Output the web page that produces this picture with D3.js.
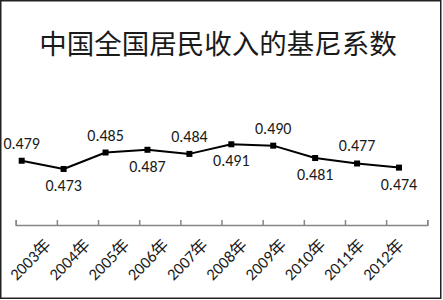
<!DOCTYPE html>
<html>
<head>
<meta charset="utf-8">
<script src="https://cdn.jsdelivr.net/npm/d3@7"></script>
<style>
  html, body { margin: 0; padding: 0; background: #fff; }
  svg { display: block; }
</style>
</head>
<body>
<svg id="chart"></svg>
<script>
const title = '中国全国居民收入的基尼系数';
const years = ['2003年', '2004年', '2005年', '2006年', '2007年', '2008年', '2009年', '2010年', '2011年', '2012年'];
const gini = [0.479, 0.473, 0.485, 0.487, 0.484, 0.491, 0.490, 0.481, 0.477, 0.474];

const width = 443;
const height = 300;
const numFont = 'Carlito, "Liberation Sans", Arial, sans-serif';
const cjkFont = '"Noto Sans CJK SC", "Liberation Sans", sans-serif';
const yearFont = 'Carlito, "Liberation Sans", "Noto Sans CJK SC", sans-serif';

const svg = d3.select('#chart')
  .attr('width', width)
  .attr('height', height);

// frame
svg.append('rect')
  .attr('x', 0.75)
  .attr('y', 0.75)
  .attr('width', 440)
  .attr('height', 297.5)
  .attr('fill', '#fff')
  .attr('stroke', '#222')
  .attr('stroke-width', 1.5);

svg.append('text')
  .attr('x', 218)
  .attr('y', 54)
  .attr('text-anchor', 'middle')
  .attr('font-family', cjkFont)
  .attr('font-size', 27.5)
  .attr('fill', '#1a1a1a')
  .text(title);

const x = d3.scalePoint()
  .domain(years)
  .range([21.7, 399]);

const y = d3.scaleLinear()
  .domain([0.47, 0.495])
  .range([173.1, 138.8]);

// axis ticks sit on the category borders
const xAxisScale = d3.scaleLinear()
  .domain([0, years.length])
  .range([15.7, 427.3]);

const xLabel = d3.scalePoint()
  .domain(years)
  .range([52, 405]);

const axis = svg.append('g')
  .attr('transform', 'translate(0, 225)')
  .call(d3.axisBottom(xAxisScale)
    .ticks(years.length)
    .tickSizeInner(-5)
    .tickSizeOuter(-5)
    .tickFormat(''));

axis.selectAll('path, line')
  .attr('stroke', '#868686')
  .attr('stroke-width', 1.5);

svg.append('g')
  .selectAll('text')
  .data(years)
  .join('text')
  .attr('transform', d => `translate(${xLabel(d)}, 246) rotate(-45)`)
  .attr('text-anchor', 'end')
  .attr('font-family', yearFont)
  .attr('font-size', 16.5)
  .attr('fill', '#1a1a1a')
  .text(d => d);

const line = d3.line()
  .x((d, i) => x(years[i]))
  .y(d => y(d));

svg.append('path')
  .datum(gini)
  .attr('fill', 'none')
  .attr('stroke', '#000')
  .attr('stroke-width', 2)
  .attr('stroke-linejoin', 'round')
  .attr('d', line);

svg.append('g')
  .selectAll('rect')
  .data(gini)
  .join('rect')
  .attr('x', (d, i) => x(years[i]) - 3)
  .attr('y', d => y(d) - 3)
  .attr('width', 6)
  .attr('height', 6)
  .attr('fill', '#000');

// labels alternate above / below the line
svg.append('g')
  .selectAll('text')
  .data(gini)
  .join('text')
  .attr('x', (d, i) => x(years[i]))
  .attr('y', (d, i) => i % 2 === 0 ? y(d) - 12 : y(d) + 22)
  .attr('text-anchor', 'middle')
  .attr('font-family', numFont)
  .attr('font-size', 16)
  .attr('fill', '#1a1a1a')
  .text(d => d.toFixed(3));
</script>
</body>
</html>
